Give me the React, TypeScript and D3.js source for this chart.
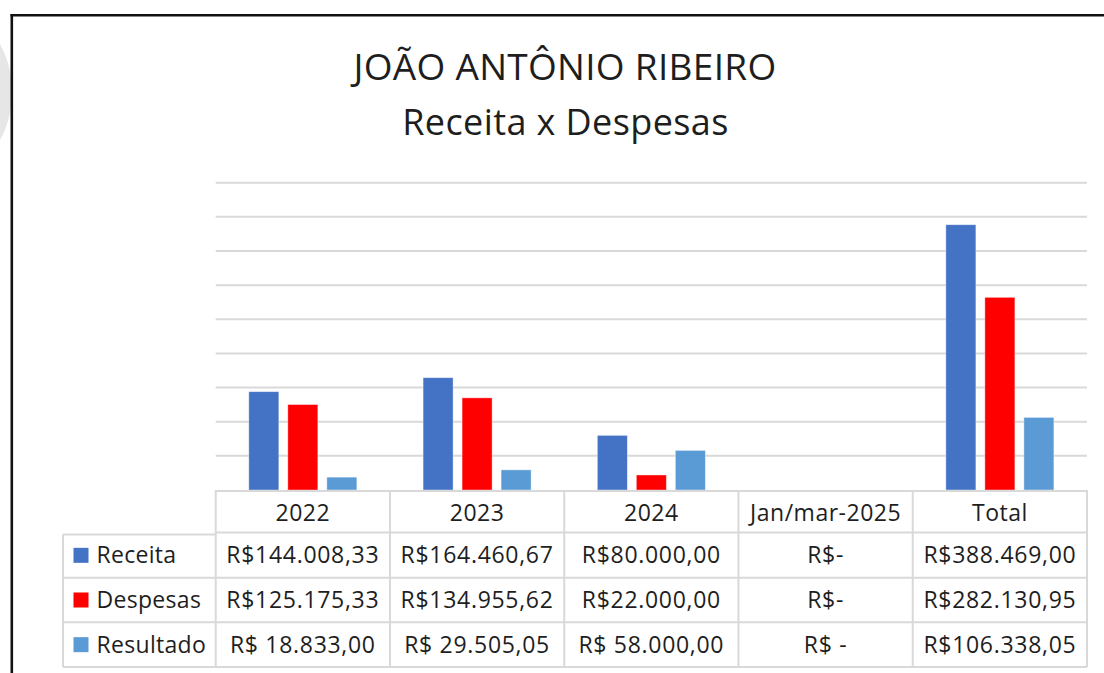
import React from 'react';
import * as d3 from 'd3';

const CATEGORIES = ['2022', '2023', '2024', 'Jan/mar-2025', 'Total'];
const SERIES = ['Receita', 'Despesas', 'Resultado'];
const RECEITA = [144008.33, 164460.67, 80000.0, 0, 388469.0];
const DESPESAS = [125175.33, 134955.62, 22000.0, 0, 282130.95];
const RESULTADO = [18833.0, 29505.05, 58000.0, 0, 106338.05];
const Y_TICKS = [0, 50000, 100000, 150000, 200000, 250000, 300000, 350000, 400000, 450000];

const COLORS: Record<string, string> = {
  Receita: '#4472c4',
  Despesas: '#ff0000',
  Resultado: '#5b9bd5',
};

const VALUES: Record<string, number[]> = {
  Receita: RECEITA,
  Despesas: DESPESAS,
  Resultado: RESULTADO,
};

const W = 1104;
const H = 673;
const FONT = "'Open Sans', 'Noto Sans', sans-serif";
const GRID = '#d9d9d9';
const TEXT = '#1e1e1e';

const brl = d3.formatLocale({
  decimal: ',',
  thousands: '.',
  grouping: [3],
  currency: ['R$', ''],
}).format(',.2f');

// the "Resultado" row uses the accounting layout (space after R$)
function money(v: number, accounting: boolean): string {
  if (v === 0) return accounting ? 'R$ -' : 'R$-';
  const pad = accounting && v < 100000 ? ' ' : '';
  return 'R$' + pad + brl(v);
}

export default function App() {
  const left = 215.7;
  const right = 1087;
  const base = 490;

  const x = d3.scaleBand<string>().domain(CATEGORIES).range([left, right]).padding(0);
  const bw = x.bandwidth();
  const inner = d3.scaleBand<string>()
    .domain(SERIES)
    .range([bw * 0.19, bw * 0.81])
    .paddingInner(0.23)
    .paddingOuter(0);
  const y = d3.scaleLinear().domain([0, 450000]).range([base, 182.7]);

  const rowTop = 533;
  const rows = d3.scaleBand<string>().domain(SERIES).range([rowTop, 667]).padding(0);
  const rh = rows.bandwidth();
  const tableLeft = 63;

  return (
    <svg
      width={W}
      height={H}
      style={{ position: 'fixed', left: 0, top: 0, background: '#fff' }}
      fontFamily={FONT}
    >
      <rect width={W} height={H} fill="#fff" />
      {/* grey shape at the left edge, behind the frame */}
      <clipPath id="leftclip">
        <rect x={0} y={0} width={12} height={H} />
      </clipPath>
      <ellipse cx={-38} cy={92} rx={50} ry={74} fill="#e6e6e6" clipPath="url(#leftclip)" />

      {/* frame */}
      <line x1={10.5} x2={W} y1={15.3} y2={15.3} stroke="#111" strokeWidth={2.6} />
      <line x1={11.8} x2={11.8} y1={14} y2={H} stroke="#111" strokeWidth={2.6} />

      {/* title */}
      <text x={565} y={79.5} textAnchor="middle" fontSize={37} letterSpacing={0.3} fill={TEXT}>
        JOÃO ANTÔNIO RIBEIRO
      </text>
      <text x={565.5} y={134.5} textAnchor="middle" fontSize={36} letterSpacing={0.4} fill={TEXT}>
        Receita x Despesas
      </text>

      {/* gridlines */}
      {Y_TICKS.filter((t) => t > 0).map((t) => (
        <line key={t} x1={left} x2={right} y1={y(t)} y2={y(t)} stroke={GRID} strokeWidth={2} />
      ))}

      {/* bars */}
      {SERIES.map((s) => (
        <g key={s}>
          {CATEGORIES.map((c, i) => {
            const v = VALUES[s][i];
            if (!v) return null;
            return (
              <rect
                key={c}
                x={(x(c) ?? 0) + (inner(s) ?? 0)}
                y={y(v)}
                width={inner.bandwidth()}
                height={base - y(v)}
                fill={COLORS[s]}
                stroke="#fff"
                strokeOpacity={0.5}
                strokeWidth={0.8}
              />
            );
          })}
        </g>
      ))}

      {/* data table */}
      <g stroke={GRID} strokeWidth={2} fill="none">
        <line x1={left} x2={right} y1={base + 1} y2={base + 1} />
        <line x1={left} x2={right} y1={rowTop - 0.5} y2={rowTop - 0.5} />
        <line x1={tableLeft} x2={left} y1={rowTop + 1.5} y2={rowTop + 1.5} />
        {SERIES.map((s) => (
          <line key={s} x1={tableLeft} x2={right} y1={(rows(s) ?? 0) + rh} y2={(rows(s) ?? 0) + rh} />
        ))}
        <line x1={tableLeft} x2={tableLeft} y1={rowTop + 1.5} y2={667} />
        {CATEGORIES.map((c) => (
          <line key={c} x1={x(c)} x2={x(c)} y1={base} y2={667} />
        ))}
        <line x1={right} x2={right} y1={base} y2={667} />
      </g>

      {CATEGORIES.map((c) => (
        <text
          key={c}
          x={(x(c) ?? 0) + bw / 2}
          y={base + 30.5}
          textAnchor="middle"
          fontSize={23}
          letterSpacing={0.5}
          fill={TEXT}
        >
          {c}
        </text>
      ))}

      {SERIES.map((s) => {
        const ry = rows(s) ?? 0;
        return (
          <g key={s}>
            <rect x={73.5} y={ry + 5.5} width={15} height={15} fill={COLORS[s]} transform={`translate(0, ${rh / 2 - 13})`} />
            <text x={96.5} y={ry + rh / 2 + 8} fontSize={23} letterSpacing={0.3} fill={TEXT}>
              {s}
            </text>
            {CATEGORIES.map((c, i) => (
              <text
                key={c}
                x={(x(c) ?? 0) + bw / 2}
                y={ry + rh / 2 + 8}
                textAnchor="middle"
                fontSize={23}
                letterSpacing={0.7}
                fill={TEXT}
              >
                {money(VALUES[s][i], s === 'Resultado')}
              </text>
            ))}
          </g>
        );
      })}
    </svg>
  );
}
